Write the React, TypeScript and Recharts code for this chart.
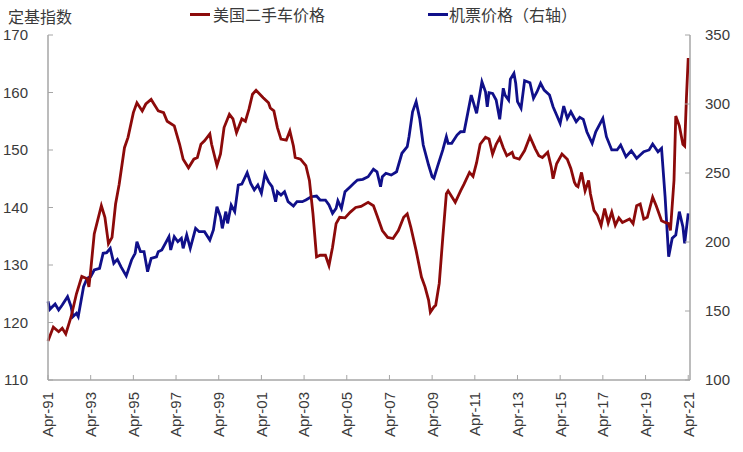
import { CartesianGrid, Line, LineChart, XAxis, YAxis } from "recharts";

// month index counted from Apr-91
const usedCarMonths = [
  0, 3, 6, 8, 10, 13, 16, 19, 22, 23, 24, 26, 30, 32, 34, 36, 38, 40, 43, 45, 48, 50, 53, 55, 58, 62, 65, 67,
  71, 74, 76, 79, 82, 84, 86, 88, 91, 92, 95, 97, 99, 102, 104, 106, 109, 111, 113, 115, 117, 121, 124, 125,
  127, 129, 131, 134, 136, 138, 139, 142, 145, 147, 149, 151, 153, 156, 158, 160, 162, 164, 167, 170, 173,
  176, 180, 183, 185, 188, 191, 194, 197, 200, 202, 204, 207, 210, 212, 214, 215, 217, 218, 220, 222, 224,
  225, 229, 232, 234, 237, 239, 241, 243, 246, 248, 250, 252, 254, 256, 258, 261, 262, 265, 268, 271, 274,
  276, 278, 281, 283, 284, 286, 289, 292, 294, 296, 297, 298, 300, 302, 304, 305, 307, 309, 311, 313, 315,
  317, 319, 321, 323, 327, 329, 331, 333, 335, 337, 340, 342, 345, 347, 349, 350, 352, 353, 355, 357, 358,
  359, 360,
];
const usedCarValues = [
  116.8, 119.2, 118.4, 119, 118, 121, 125, 128, 127.6, 126.2, 129, 135.4, 140.3, 138.3, 133.7, 134.8, 140.6,
  144, 150.4, 152.2, 156.5, 158.2, 156.8, 158, 158.8, 156.8, 156.5, 155, 154.2, 151, 148.4, 146.9, 148.4,
  148.7, 151, 151.6, 152.8, 151, 147.3, 149.3, 153.9, 156.2, 155.4, 153, 155.4, 155, 157.1, 159.7, 160.4,
  159.1, 158.2, 157.3, 156.8, 153.9, 151.9, 151.7, 153.3, 150.7, 148.7, 148.4, 147.3, 144.7, 138.9, 131.4,
  131.7, 131.7, 129.9, 133.1, 137.2, 138.3, 138.2, 139.2, 140, 140.2, 140.9, 140.3, 138.6, 136, 134.8, 134.6,
  136, 138.3, 138.9, 136.6, 132.5, 127.9, 126.2, 123.9, 121.8, 122.7, 123, 126.8, 134.8, 142.4, 142.9, 140.9,
  142.9, 144.1, 146.1, 145.4, 147.8, 151, 152.2, 151.9, 149.3, 151, 152.1, 150.4, 149, 149.6, 148.7, 148.4,
  149.9, 152.3, 150.2, 149, 148.7, 149.6, 147, 145, 147.6, 149.3, 148.4, 146.8, 144.4, 143.8, 143.6, 146.1,
  142.9, 144.7, 142.4, 139.5, 138.6, 136.9, 139.8, 137.3, 139.2, 136.9, 138.2, 137.4, 138, 137.2, 140.3,
  140.6, 138, 138.3, 141.8, 140.3, 137.7, 137.4, 137.2, 136, 144.7, 155.9, 154.2, 151, 150.7, 159.1, 166,
];

const airfareMonths = [
  0, 1, 4, 6, 8, 11, 13, 14, 16, 17, 20, 22, 24, 26, 29, 31, 33, 35, 37, 39, 41, 44, 47, 49, 50, 52, 54, 56,
  58, 61, 62, 64, 66, 68, 69, 71, 73, 75, 76, 78, 80, 83, 85, 88, 91, 93, 95, 97, 98, 100, 101, 103, 105, 107,
  109, 112, 114, 116, 118, 120, 122, 124, 126, 128, 129, 131, 133, 135, 138, 140, 143, 145, 148, 151, 153,
  156, 158, 160, 162, 163, 165, 167, 170, 172, 174, 177, 180, 183, 185, 187, 188, 190, 193, 196, 199, 202,
  203, 205, 207, 209, 211, 214, 216, 217, 219, 222, 224, 225, 227, 230, 232, 234, 236, 238, 241, 244, 246,
  247, 248, 250, 252, 254, 256, 257, 259, 260, 262, 263, 264, 266, 268, 271, 273, 275, 277, 279, 282, 284,
  286, 288, 290, 292, 294, 297, 299, 301, 303, 306, 308, 312, 314, 317, 320, 322, 325, 328, 331, 333, 335,
  338, 340, 343, 345, 347, 349, 351, 353, 355, 357, 358, 360,
];
const airfareValues = [
  157, 151.2, 155.1, 150.7, 154.3, 160.4, 153.1, 145.9, 148.3, 145.9, 167.6, 173.7, 174.9, 179.7, 180.9,
  191.8, 192.3, 195.4, 184.6, 187.4, 182.1, 175.4, 187, 191.8, 200.2, 193, 193, 178.5, 188.2, 189.3, 193,
  194.2, 199, 203.8, 194.2, 203.8, 200.2, 202.7, 195.4, 205.1, 195.4, 209.9, 207.5, 207.5, 201.4, 208.7,
  225.6, 218.3, 209.9, 222, 213.5, 226.8, 222, 241.3, 242, 250.2, 242.5, 237.7, 241.3, 235.3, 249.3, 243.7,
  240.1, 229.2, 236.4, 234, 236.4, 229.2, 226.1, 229.2, 229.2, 230.4, 232.8, 233.3, 230.4, 230.4, 226.8,
  220.8, 224.4, 229.9, 224.4, 236.4, 240.1, 242.5, 244.9, 245.4, 247.3, 252.7, 250.9, 240.1, 247.3, 249.8,
  248.5, 250.9, 264.3, 269.1, 276.3, 294.4, 301.7, 289.6, 270.3, 255.8, 247.3, 246.2, 254.6, 266.7, 276.3,
  271.5, 271.5, 277.5, 279.9, 280, 293.2, 306.5, 293.2, 316.1, 308.9, 298, 308.2, 307.7, 302.9, 288.9, 311.4,
  306.5, 302.9, 317.9, 322.2, 315, 301.7, 296.9, 316.9, 315.4, 304.1, 308.9, 315, 310.1, 306.5, 298, 292,
  286, 298.5, 289.6, 294.4, 287.2, 290.4, 288.9, 279.9, 271.5, 279.9, 289.6, 276.3, 266.7, 266.7, 270.3,
  261.8, 266.1, 260.6, 263, 265.4, 266.7, 271, 265.4, 267.9, 232.8, 189.3, 202.7, 205.1, 222, 211.1, 199,
  220.8,
];

const xTickMonths = [0, 24, 48, 72, 96, 120, 144, 168, 192, 216, 240, 264, 288, 312, 336, 360];
const xTickLabels = [
  "Apr-91", "Apr-93", "Apr-95", "Apr-97", "Apr-99", "Apr-01", "Apr-03", "Apr-05",
  "Apr-07", "Apr-09", "Apr-11", "Apr-13", "Apr-15", "Apr-17", "Apr-19", "Apr-21",
];
const leftTicks = [110, 120, 130, 140, 150, 160, 170];
const rightTicks = [100, 150, 200, 250, 300, 350];

const usedCarData = usedCarMonths.map((m, i) => ({ m, v: usedCarValues[i] }));
const airfareData = airfareMonths.map((m, i) => ({ m, v: airfareValues[i] }));

const RED = "#8c0a0a";
const BLUE = "#10108a";
const AXIS = "#a6a6a6";
const TEXT = "#3a3a3a";
const FONT = "'Liberation Sans', Arial, 'Noto Sans CJK SC', sans-serif";
const CJK = "'Noto Sans CJK SC', sans-serif";

function XTick({ x, payload }: any) {
  const idx = xTickMonths.indexOf(payload.value);
  const label = idx >= 0 ? xTickLabels[idx] : "";
  return (
    <text
      transform={`translate(${x},392) rotate(-90)`}
      textAnchor="end"
      dy="0.36em"
      fontSize={15}
      fill={TEXT}
      fontFamily={FONT}
    >
      {label}
    </text>
  );
}

export default function App() {
  return (
    <div style={{ position: "absolute", left: 0, top: 0, width: 743, height: 452, background: "#fff" }}>
      <div style={{ position: "absolute", left: 8, top: 4, fontFamily: CJK, fontSize: 16, color: TEXT }}>
        定基指数
      </div>
      <div style={{ position: "absolute", left: 190, top: 2, display: "flex", alignItems: "center", fontFamily: CJK, fontSize: 16, color: TEXT }}>
        <span style={{ display: "inline-block", width: 20, height: 3, background: RED, marginRight: 3 }} />
        美国二手车价格
      </div>
      <div style={{ position: "absolute", left: 428, top: 2, display: "flex", alignItems: "center", fontFamily: CJK, fontSize: 16, color: TEXT }}>
        <span style={{ display: "inline-block", width: 20, height: 3, background: BLUE, marginRight: 1 }} />
        机票价格（右轴）
      </div>
      <LineChart
        width={743}
        height={452}
        margin={{ top: 35, right: 8, left: 0, bottom: 0 }}
        style={{ position: "absolute", left: 0, top: 0 }}
      >
        <CartesianGrid stroke="none" />
        <XAxis
          dataKey="m"
          type="number"
          domain={[0, 361]}
          ticks={xTickMonths}
          interval={0}
          height={72}
          axisLine={{ stroke: AXIS, strokeWidth: 1.5 }}
          tickLine={{ stroke: AXIS }}
          tickSize={-5}
          tick={<XTick />}
          allowDuplicatedCategory={false}
        />
        <YAxis
          yAxisId="left"
          orientation="left"
          domain={[110, 170]}
          ticks={leftTicks}
          width={48}
          axisLine={{ stroke: AXIS, strokeWidth: 1.5 }}
          tickLine={{ stroke: AXIS }}
          tickSize={-5}
          tickMargin={25}
          tick={{ fill: TEXT, fontSize: 15, fontFamily: FONT }}
        />
        <YAxis
          yAxisId="right"
          orientation="right"
          domain={[100, 350]}
          ticks={rightTicks}
          width={45}
          axisLine={{ stroke: AXIS, strokeWidth: 1.5 }}
          tickLine={{ stroke: AXIS }}
          tickSize={-5}
          tickMargin={20}
          tick={{ fill: TEXT, fontSize: 15, fontFamily: FONT, textAnchor: "start" }}
        />
        <Line
          yAxisId="right"
          data={airfareData}
          dataKey="v"
          type="linear"
          stroke={BLUE}
          strokeWidth={2.8}
          dot={false}
          isAnimationActive={false}
        />
        <Line
          yAxisId="left"
          data={usedCarData}
          dataKey="v"
          type="linear"
          stroke={RED}
          strokeWidth={2.8}
          dot={false}
          isAnimationActive={false}
        />
      </LineChart>
    </div>
  );
}
